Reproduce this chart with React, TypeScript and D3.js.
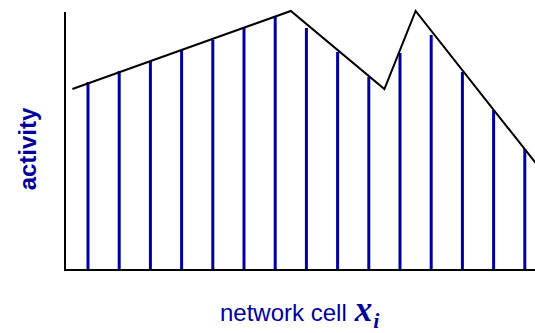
import React from "react";
import * as d3 from "d3";

// cell indices along the network
const cells = [0, 1, 2, 3, 4, 5, 6, 7, 8, 9, 10, 11, 12, 13, 14];
// activity of each cell (stems)
const activity = [188, 199, 209, 220, 230, 243, 253, 242, 218, 193, 217, 235, 198, 160, 121];
// envelope polyline (cell position, activity)
const envelopeX = [-0.5, 6.5, 9.5, 10.5, 14.5];
const envelopeY = [181, 259, 181, 259, 101];

const W = 535;
const H = 333;
const BLUE = "#0000a0";

export default function App() {
  const x = d3.scaleLinear().domain([0, 14]).range([88, 524.8]);
  const y = d3.scaleLinear().domain([0, 258]).range([270, 12]);
  const xAxisMin = -0.737;
  const xAxisMax = 14.4;

  const line = d3
    .line<number>()
    .x((_, i) => x(envelopeX[i]))
    .y((d) => y(d));

  return (
    <svg
      width={W}
      height={H}
      style={{ position: "fixed", left: 0, top: 0, background: "#fff" }}
    >
      <rect x={0} y={0} width={W} height={H} fill="#fff" />
      {cells.map((c, i) => (
        <line
          key={c}
          x1={x(c)}
          x2={x(c)}
          y1={y(0)}
          y2={y(activity[i])}
          stroke={BLUE}
          strokeWidth={3}
        />
      ))}
      <path d={line(envelopeY) || ""} fill="none" stroke="#000" strokeWidth={2} />
      {/* axes */}
      <line x1={x(xAxisMin)} x2={x(xAxisMin)} y1={y(0) + 1} y2={y(258)} stroke="#000" strokeWidth={2} />
      <line x1={x(xAxisMin) - 1} x2={x(xAxisMax)} y1={y(0)} y2={y(0)} stroke="#000" strokeWidth={2} />
      <text
        transform={`translate(36, 149) rotate(-90)`}
        textAnchor="middle"
        fontFamily="Liberation Sans, Arial, sans-serif"
        fontWeight="bold"
        fontSize={24}
        fill={BLUE}
      >
        activity
      </text>
      <text x={220} y={321} fontFamily="Liberation Sans, Arial, sans-serif" fontSize={24} fill={BLUE}>
        network cell
        <tspan
          dx={8}
          fontFamily="Liberation Serif, Times New Roman, serif"
          fontWeight="bold"
          fontStyle="italic"
          fontSize={35}
        >
          x
        </tspan>
        <tspan
          dx={1}
          dy={7}
          fontFamily="Liberation Serif, Times New Roman, serif"
          fontWeight="bold"
          fontStyle="italic"
          fontSize={22}
        >
          i
        </tspan>
      </text>
    </svg>
  );
}
